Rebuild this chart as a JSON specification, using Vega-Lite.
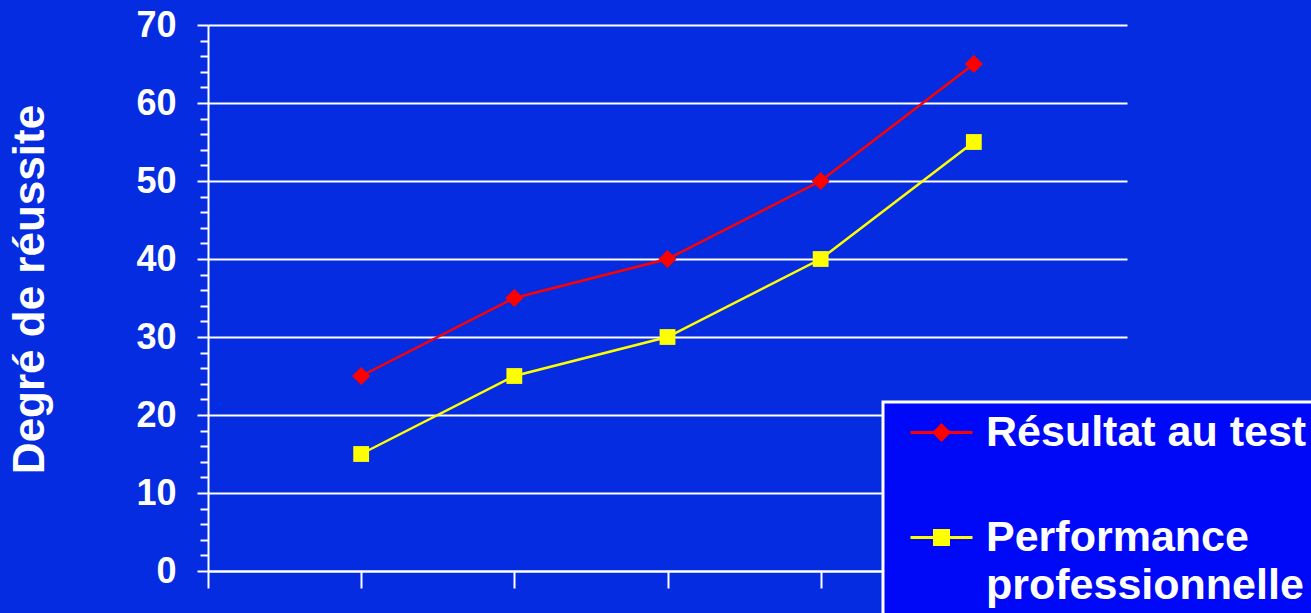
{
  "$schema": "https://vega.github.io/schema/vega-lite/v6.json",
  "width": 919,
  "height": 546,
  "autosize": {"type": "none"},
  "padding": {"left": 208, "top": 25, "right": 184, "bottom": 42},
  "background": "#052CE0",
  "config": {"view": {"stroke": null}, "font": "Liberation Sans"},
  "data": {"values": [
    {"x": 1, "v": 25, "serie": "Résultat au test"},
    {"x": 2, "v": 35, "serie": "Résultat au test"},
    {"x": 3, "v": 40, "serie": "Résultat au test"},
    {"x": 4, "v": 50, "serie": "Résultat au test"},
    {"x": 5, "v": 65, "serie": "Résultat au test"},
    {"x": 1, "v": 15, "serie": "Performance professionnelle"},
    {"x": 2, "v": 25, "serie": "Performance professionnelle"},
    {"x": 3, "v": 30, "serie": "Performance professionnelle"},
    {"x": 4, "v": 40, "serie": "Performance professionnelle"},
    {"x": 5, "v": 55, "serie": "Performance professionnelle"}
  ]},
  "encoding": {
    "x": {"field": "x", "type": "quantitative", "scale": {"domain": [0, 6], "nice": false},
      "axis": {"values": [0, 1, 2, 3, 4, 5, 6], "labels": false, "tickSize": 17, "tickColor": "white", "tickWidth": 2, "domainColor": "white", "domainWidth": 2, "grid": false, "title": null}},
    "y": {"field": "v", "type": "quantitative", "scale": {"domain": [0, 70], "nice": false},
      "axis": {
        "values": [0,2,4,6,8,10,12,14,16,18,20,22,24,26,28,30,32,34,36,38,40,42,44,46,48,50,52,54,56,58,60,62,64,66,68,70],
        "labelExpr": "datum.value % 10 === 0 ? datum.label : ''",
        "labelFontSize": 36, "labelFontWeight": "bold", "labelColor": "white", "labelPadding": 21,
        "tickSize": {"condition": {"test": "datum.value % 10 === 0", "value": 11}, "value": 8},
        "tickColor": "white", "tickWidth": 2,
        "domainColor": "white", "domainWidth": 2,
        "grid": true, "gridColor": "white", "gridWidth": 2,
        "gridOpacity": {"condition": {"test": "datum.value % 10 === 0", "value": 1}, "value": 0},
        "title": "Degré de réussite", "titleFontSize": 44, "titleColor": "white", "titleFontWeight": "bold", "titlePadding": 83, "titleY": 264
      }},
    "color": {"field": "serie", "type": "nominal",
      "scale": {"domain": ["Résultat au test", "Performance professionnelle"], "range": ["#FF0000", "#FFFF00"]},
      "legend": {
        "orient": "none", "legendX": 675, "legendY": 377, "title": null,
        "fillColor": "#0008F8", "strokeColor": "white", "padding": 9,
        "symbolSize": 400, "symbolStrokeWidth": 0, "symbolOffset": 28,
        "labelFontSize": 43, "labelFontWeight": "bold", "labelColor": "white", "labelOffset": 23, "labelLimit": 0,
        "rowPadding": 61,
        "labelExpr": "datum.label === 'Performance professionnelle' ? ['Performance', 'professionnelle'] : datum.label",
        "encode": {
          "legend": {"update": {"strokeWidth": {"value": 3}}},
          "labels": {"update": {"lineHeight": {"value": 48}}},
          "symbols": {"update": {
            "shape": {"signal": "datum.value === 'Résultat au test' ? 'M-3.1,-0.14L3.1,-0.14L3.1,0.14L-3.1,0.14ZM-0.95,0L0,-0.95L0.95,0L0,0.95Z' : 'M-3.1,-0.14L3.1,-0.14L3.1,0.14L-3.1,0.14ZM-0.85,-0.85L0.85,-0.85L0.85,0.85L-0.85,0.85Z'"},
            "size": {"value": 400},
            "fill": {"signal": "datum.value === 'Résultat au test' ? '#FF0000' : '#FFFF00'"},
            "opacity": {"value": 1}
          }}
        }
      }}
  },
  "layer": [
    {"mark": {"type": "line", "strokeWidth": 2.5}},
    {"transform": [{"filter": "datum.serie === 'Résultat au test'"}],
      "mark": {"type": "point", "filled": true, "opacity": 1, "shape": "diamond", "size": 330}},
    {"transform": [{"filter": "datum.serie === 'Performance professionnelle'"}],
      "mark": {"type": "point", "filled": true, "opacity": 1, "shape": "square", "size": 250}}
  ]
}
